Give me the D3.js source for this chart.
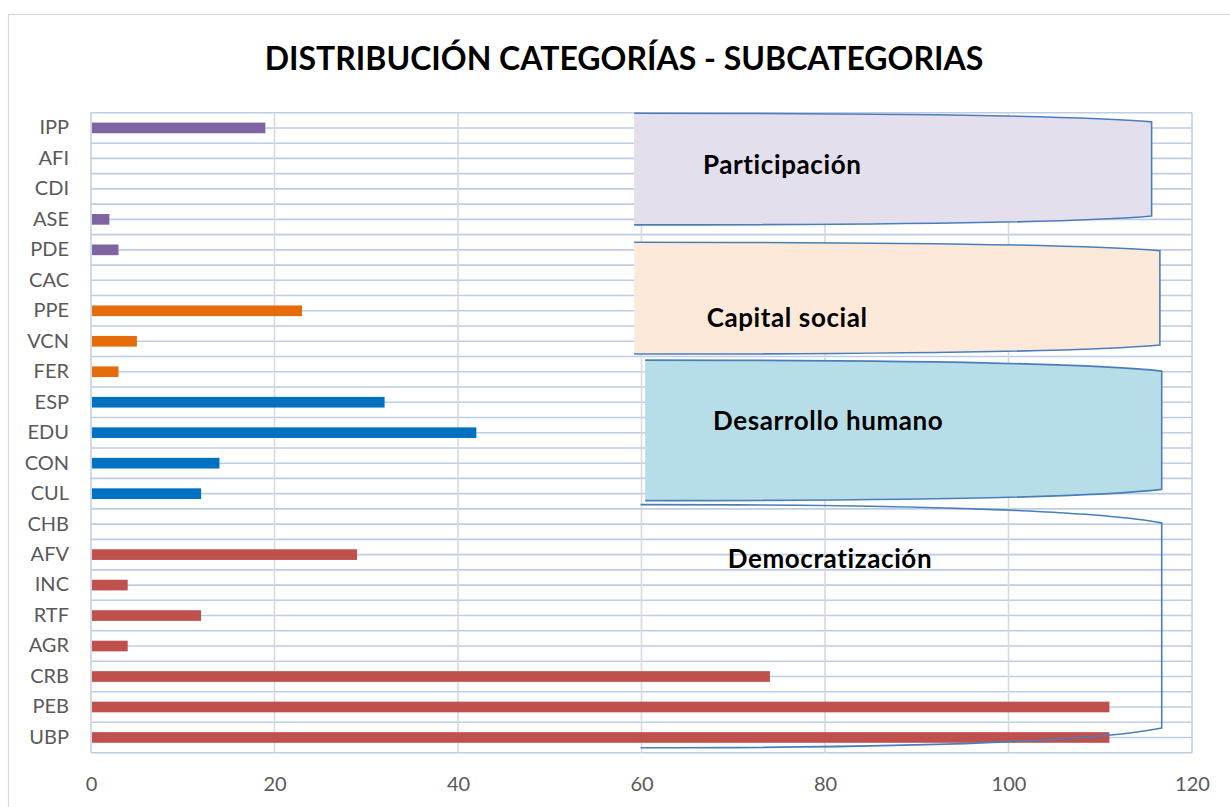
<!DOCTYPE html>
<html lang="es">
<head>
<meta charset="utf-8">
<title>Distribución categorías - subcategorias</title>
<script src="https://cdnjs.cloudflare.com/ajax/libs/d3/7.8.5/d3.min.js"></script>
<style>
  html, body { margin: 0; padding: 0; background: #ffffff; }
  svg { display: block; font-family: Lato, "Open Sans", sans-serif; }
</style>
</head>
<body>
<svg id="grafico"></svg>
<script>
// Datos (de arriba hacia abajo)
const categorias = ['IPP', 'AFI', 'CDI', 'ASE', 'PDE', 'CAC', 'PPE', 'VCN', 'FER', 'ESP', 'EDU',
  'CON', 'CUL', 'CHB', 'AFV', 'INC', 'RTF', 'AGR', 'CRB', 'PEB', 'UBP'];
const valores = [19, 0, 0, 2, 3, 0, 23, 5, 3, 32, 42, 14, 12, 0, 29, 4, 12, 4, 74, 111, 111];
const grupos = ['P', 'P', 'P', 'P', 'P', 'C', 'C', 'C', 'C', 'D', 'D', 'D', 'D',
  'M', 'M', 'M', 'M', 'M', 'M', 'M', 'M'];
const ticksX = [0, 20, 40, 60, 80, 100, 120];
const nombresGrupo = ['Participación', 'Capital social', 'Desarrollo humano', 'Democratización'];

const titulo = 'DISTRIBUCIÓN CATEGORÍAS - SUBCATEGORIAS';

// Colores
const colorBarra = { P: '#8064a2', C: '#e46c0a', D: '#0070c0', M: '#c0504d' };
const rellenoGrupo = ['#e4dfec', '#fde9d9', '#b7dee8', 'none'];

// Dimensiones
const anchoTotal = 1230;
const altoTotal = 807;
const margen = { superior: 112.7, derecho: 38, inferior: 54.3, izquierdo: 91 };
const ancho = anchoTotal - margen.izquierdo - margen.derecho;
const alto = altoTotal - margen.superior - margen.inferior;

const svg = d3.select('#grafico')
  .attr('width', anchoTotal)
  .attr('height', altoTotal);

// Borde del área del gráfico
svg.append('rect')
  .attr('x', 8.5)
  .attr('y', 14.5)
  .attr('width', anchoTotal)
  .attr('height', altoTotal)
  .attr('fill', '#ffffff')
  .attr('stroke', '#d9d9d9')
  .attr('stroke-width', 1.2);

// Título
svg.append('text')
  .attr('x', 624)
  .attr('y', 70)
  .attr('text-anchor', 'middle')
  .style('font-size', '32px')
  .style('font-weight', 700)
  .style('fill', '#000000')
  .text(titulo);

const g = svg.append('g')
  .attr('transform', `translate(${margen.izquierdo}, ${margen.superior})`);

// Escalas
const escalaX = d3.scaleLinear()
  .domain([0, 120])
  .range([0, ancho]);

const escalaY = d3.scaleBand()
  .domain(categorias)
  .range([0, alto])
  .padding(0);

// Posición continua en unidades de categoría (para líneas y llaves)
const escalaIdx = d3.scaleLinear()
  .domain([0, categorias.length])
  .range([0, alto]);

// Líneas horizontales: bordes y centros de cada categoría
const lineasH = d3.range(0, categorias.length + 0.5, 0.5);
g.append('g')
  .selectAll('line')
  .data(lineasH)
  .enter()
  .append('line')
  .attr('x1', 0)
  .attr('x2', ancho)
  .attr('y1', d => escalaIdx(d))
  .attr('y2', d => escalaIdx(d))
  .attr('stroke', '#bccde5')
  .attr('stroke-width', 1.6);

// Líneas verticales de la cuadrícula
g.append('g')
  .selectAll('line')
  .data(ticksX)
  .enter()
  .append('line')
  .attr('x1', d => escalaX(d))
  .attr('x2', d => escalaX(d))
  .attr('y1', 0)
  .attr('y2', alto)
  .attr('stroke', d => (d === 0 || d === 120) ? '#c5d0e0' : '#d9d9d9')
  .attr('stroke-width', 1.6);

// Barras
const grosor = escalaY.bandwidth() * 0.35;
g.append('g')
  .selectAll('rect')
  .data(valores)
  .enter()
  .append('rect')
  .attr('x', escalaX(0) + 1)
  .attr('y', (d, i) => escalaY(categorias[i]) + (escalaY.bandwidth() - grosor) / 2)
  .attr('width', d => Math.max(0, escalaX(d) - escalaX(0) - 1))
  .attr('height', grosor)
  .attr('fill', (d, i) => colorBarra[grupos[i]]);

// Eje Y (etiquetas de categoría)
const ejeY = d3.axisLeft(escalaY).tickSize(0).tickPadding(22);
g.append('g')
  .attr('id', 'y-axis')
  .call(ejeY)
  .call(sel => sel.select('.domain').remove())
  .selectAll('text')
  .style('font-family', 'Lato, sans-serif')
  .style('font-size', '20px')
  .style('fill', '#595959');

// Eje X
const ejeX = d3.axisBottom(escalaX).tickValues(ticksX).tickSize(0).tickPadding(24);
g.append('g')
  .attr('id', 'x-axis')
  .attr('transform', `translate(0, ${alto})`)
  .call(ejeX)
  .call(sel => sel.select('.domain').remove())
  .selectAll('text')
  .style('font-family', 'Lato, sans-serif')
  .style('font-size', '20px')
  .style('fill', '#595959');

// Llaves de agrupación (x en unidades de datos, y en unidades de categoría)
const llaves = [
  { x0: 59.2, x1: 115.6, y: [0.02, 0.30, 3.39, 3.68], tx: 66.7, ty: 2.0 },
  { x0: 59.2, x1: 116.5, y: [4.25, 4.53, 7.62, 7.92], tx: 67.1, ty: 7.03 },
  { x0: 60.4, x1: 116.7, y: [8.12, 8.48, 12.36, 12.73], tx: 67.8, ty: 10.4 },
  { x0: 59.9, x1: 116.7, y: [12.86, 13.46, 20.19, 20.84], tx: 69.4, ty: 14.95 }
];

function contorno(d, cerrar) {
  const xl = escalaX(d.x0);
  const xr = escalaX(d.x1);
  const w = xr - xl;
  const [a, b, c, e] = d.y.map(v => escalaIdx(v));
  let p = `M${xl},${a}`;
  p += ` C${xl + w * 0.55},${a} ${xr - w * 0.12},${a + (b - a) * 0.35} ${xr},${b}`;
  p += ` L${xr},${c}`;
  p += ` C${xr - w * 0.12},${e - (e - c) * 0.35} ${xl + w * 0.55},${e} ${xl},${e}`;
  if (cerrar) p += ' Z';
  return p;
}

const capaLlaves = g.append('g');
llaves.forEach((d, i) => {
  if (rellenoGrupo[i] !== 'none') {
    capaLlaves.append('path')
      .attr('d', contorno(d, true))
      .attr('fill', rellenoGrupo[i])
      .attr('stroke', 'none');
  }
  capaLlaves.append('path')
    .attr('d', contorno(d, false))
    .attr('fill', 'none')
    .attr('stroke', '#4a7ebb')
    .attr('stroke-width', 1.6);
  capaLlaves.append('text')
    .attr('x', escalaX(d.tx))
    .attr('y', escalaIdx(d.ty))
    .style('font-size', '26px')
    .style('letter-spacing', '0.6px')
    .style('font-weight', 700)
    .style('fill', '#000000')
    .text(nombresGrupo[i]);
});
</script>
</body>
</html>
